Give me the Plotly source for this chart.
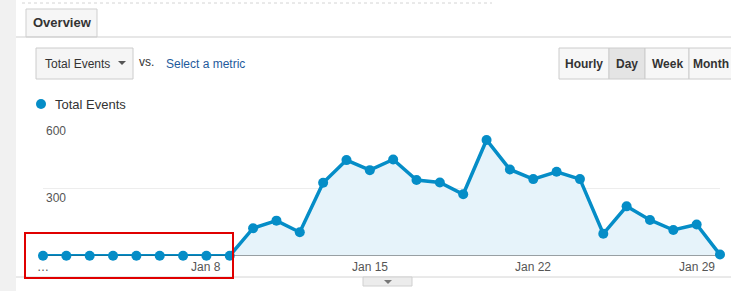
import plotly.graph_objects as go
import pandas as pd

W, H = 731, 291

dates = pd.date_range("2017-01-01", "2017-01-30", freq="D")
total_events = [0, 0, 0, 0, 0, 0, 0, 0, 0, 123, 157, 105, 327, 428, 383, 431,
                339, 328, 275, 518, 386, 343, 376, 343, 98, 221, 160, 115, 140, 5]
y_ticks = [300, 600]
x_tick_dates = ["2017-01-01", "2017-01-08", "2017-01-15", "2017-01-22", "2017-01-29"]
x_tick_text = ["…", "Jan 8", "Jan 15", "Jan 22", "Jan 29"]
series_name = "Total Events"
buttons = ["Hourly", "Day", "Week", "Month"]

BLUE = "#058dc7"
FONT = "Liberation Sans, Arial, sans-serif"


def px(x):
    return x / W


def py(y):
    return 1 - y / H


fig = go.Figure()
fig.add_trace(go.Scatter(
    x=dates, y=total_events, mode="lines+markers", name=series_name,
    line=dict(color=BLUE, width=3.5),
    marker=dict(color=BLUE, size=10),
    fill="tozeroy", fillcolor="#e6f3fa",
    cliponaxis=False, showlegend=False, hoverinfo="skip",
))

shapes = []
annotations = []

# left gray strip
shapes.append(dict(type="rect", xref="paper", yref="paper", x0=0, x1=px(16), y0=0, y1=1,
                   fillcolor="#f1f1f1", line=dict(width=0), layer="below"))
# dashed top line
shapes.append(dict(type="line", xref="paper", yref="paper", x0=px(22), x1=px(492), y0=py(3), y1=py(3),
                   line=dict(color="#d4d4d4", width=1, dash="dot")))
# tab
shapes.append(dict(type="rect", xref="paper", yref="paper", x0=px(26), x1=px(97), y0=py(37), y1=py(9),
                   fillcolor="#f6f6f6", line=dict(color="#cfcfcf", width=1)))
shapes.append(dict(type="line", xref="paper", yref="paper", x0=px(16), x1=1, y0=py(37), y1=py(37),
                   line=dict(color="#cfcfcf", width=1)))
annotations.append(dict(xref="paper", yref="paper", x=px(62), y=py(23), text="<b>Overview</b>",
                        showarrow=False, font=dict(family=FONT, size=13, color="#333333"),
                        xanchor="center", yanchor="middle"))
# dropdown
shapes.append(dict(type="rect", xref="paper", yref="paper", x0=px(36), x1=px(133), y0=py(79), y1=py(48),
                   fillcolor="#f5f5f5", line=dict(color="#cccccc", width=1)))
annotations.append(dict(xref="paper", yref="paper", x=px(43), y=py(63.5), text="Total Events",
                        showarrow=False, font=dict(family=FONT, size=12, color="#333333"),
                        xanchor="left", yanchor="middle"))
tx, ty = 122, 63
shapes.append(dict(type="path", xref="paper", yref="paper",
                   path=f"M {px(tx-4)},{py(ty-2)} L {px(tx+4)},{py(ty-2)} L {px(tx)},{py(ty+2)} Z",
                   fillcolor="#555555", line=dict(width=0)))
annotations.append(dict(xref="paper", yref="paper", x=px(137), y=py(61.5), text="vs.",
                        showarrow=False, font=dict(family=FONT, size=12, color="#333333"),
                        xanchor="left", yanchor="middle"))
annotations.append(dict(xref="paper", yref="paper", x=px(164), y=py(63.5), text="Select a metric",
                        showarrow=False, font=dict(family=FONT, size=12, color="#1e5a9c"),
                        xanchor="left", yanchor="middle"))
# buttons
bx = [559, 609, 645, 689, 745]
for i, lab in enumerate(buttons):
    shapes.append(dict(type="rect", xref="paper", yref="paper", x0=px(bx[i]), x1=px(bx[i+1]),
                       y0=py(79), y1=py(48),
                       fillcolor="#e4e4e4" if lab == "Day" else "#f7f7f7",
                       line=dict(color="#cccccc", width=1)))
    cx = (bx[i] + bx[i+1]) / 2 if lab != "Month" else 691
    annotations.append(dict(xref="paper", yref="paper", x=px(cx), y=py(63.5), text=f"<b>{lab}</b>",
                            showarrow=False, font=dict(family=FONT, size=12, color="#333333"),
                            xanchor="left" if lab == "Month" else "center", yanchor="middle"))
# legend
shapes.append(dict(type="circle", xref="paper", yref="paper", x0=px(36), x1=px(46), y0=py(109), y1=py(99),
                   fillcolor=BLUE, line=dict(width=0)))
annotations.append(dict(xref="paper", yref="paper", x=px(53), y=py(104), text=series_name,
                        showarrow=False, font=dict(family=FONT, size=13, color="#333333"),
                        xanchor="left", yanchor="middle"))
# y tick labels
for v in y_ticks:
    annotations.append(dict(xref="paper", yref="y", x=px(44), y=v, text=str(v), showarrow=False,
                            font=dict(family=FONT, size=12, color="#555555"),
                            xanchor="left", yanchor="top", yshift=0))
# x tick labels
for d, t in zip(x_tick_dates, x_tick_text):
    annotations.append(dict(xref="x", yref="paper", x=d, y=py(267), text=t, showarrow=False,
                            font=dict(family=FONT, size=12, color="#555555"),
                            xanchor="center", yanchor="middle"))
# bottom line and toggle tab
shapes.append(dict(type="line", xref="paper", yref="paper", x0=px(16), x1=1, y0=py(277), y1=py(277),
                   line=dict(color="#d4d4d4", width=1)))
shapes.append(dict(type="rect", xref="paper", yref="paper", x0=px(363), x1=px(412), y0=py(286), y1=py(277),
                   fillcolor="#ececec", line=dict(color="#d0d0d0", width=1)))
shapes.append(dict(type="path", xref="paper", yref="paper",
                   path=f"M {px(384)},{py(280)} L {px(392)},{py(280)} L {px(388)},{py(284)} Z",
                   fillcolor="#777777", line=dict(width=0)))
# red highlight box
shapes.append(dict(type="rect", xref="paper", yref="paper", x0=px(25), x1=px(233), y0=py(278), y1=py(233),
                   fillcolor="rgba(0,0,0,0)", line=dict(color="#e00000", width=2)))

fig.update_layout(
    width=W, height=H, margin=dict(l=0, r=0, t=0, b=0),
    paper_bgcolor="white", plot_bgcolor="white",
    shapes=shapes, annotations=annotations,
    xaxis=dict(domain=[px(43), px(720)], range=[dates[0], dates[-1]], showticklabels=False,
               showgrid=False, zeroline=False, showline=False, fixedrange=True),
    yaxis=dict(domain=[py(255.7), py(121.7)], range=[0, 600], tickvals=y_ticks,
               showticklabels=False, showgrid=True, gridcolor="#ededed", gridwidth=1,
               zeroline=True, zerolinecolor="#333333", zerolinewidth=1, showline=False,
               fixedrange=True),
    showlegend=False,
)

fig.write_html("out.html")
